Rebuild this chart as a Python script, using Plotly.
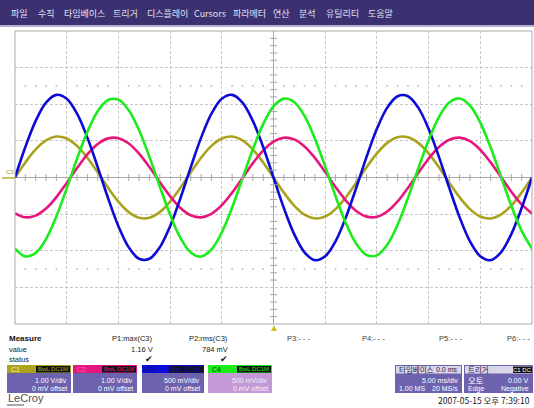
import plotly.graph_objects as go

W, H = 534, 408

# ---------------- data ----------------
# time axis in ms (5 ms/div, 10 divisions, trigger at centre)
time_ms = list(range(-25, 26))

# C1 (olive), 1.00 V/div
c1_volts = [0, 0.412, 0.767, 1.013, 1.118, 1.065, 0.863, 0.540, 0.140, -0.279,
            -0.658, -0.946, -1.100, -1.100, -0.946, -0.658, -0.279, 0.140, 0.540, 0.863,
            1.065, 1.118, 1.013, 0.767, 0.412, 0, -0.412, -0.767, -1.013, -1.118,
            -1.065, -0.863, -0.540, -0.140, 0.279, 0.658, 0.946, 1.100, 1.100, 0.946,
            0.658, 0.279, -0.140, -0.540, -0.863, -1.065, -1.118, -1.013, -0.767, -0.412, 0]
# C2 (magenta), 1.00 V/div
c2_volts = [-0.980, -1.087, -1.041, -0.849, -0.537, -0.150, 0.258, 0.630, 0.913, 1.068,
            1.073, 0.928, 0.652, 0.284, -0.123, -0.513, -0.831, -1.032, -1.089, -0.992,
            -0.756, -0.414, -0.014, 0.388, 0.736, 0.980, 1.087, 1.041, 0.849, 0.537,
            0.150, -0.258, -0.630, -0.913, -1.068, -1.073, -0.928, -0.652, -0.284, 0.123,
            0.513, 0.831, 1.032, 1.089, 0.992, 0.756, 0.414, 0.014, -0.388, -0.736, -0.980]
# C3 (blue), 500 mV/div
c3_volts = [0, 0.416, 0.773, 1.022, 1.128, 1.075, 0.871, 0.544, 0.142, -0.281,
            -0.664, -0.954, -1.110, -1.110, -0.954, -0.664, -0.281, 0.142, 0.544, 0.871,
            1.075, 1.128, 1.022, 0.773, 0.416, 0, -0.416, -0.773, -1.022, -1.128,
            -1.075, -0.871, -0.544, -0.142, 0.281, 0.664, 0.954, 1.110, 1.110, 0.954,
            0.664, 0.281, -0.142, -0.544, -0.871, -1.075, -1.128, -1.022, -0.773, -0.416, 0]
# C4 (green), 500 mV/div
c4_volts = [-0.971, -1.077, -1.031, -0.841, -0.532, -0.149, 0.255, 0.624, 0.905, 1.058,
            1.063, 0.919, 0.646, 0.282, -0.122, -0.508, -0.824, -1.023, -1.079, -0.983,
            -0.749, -0.410, -0.014, 0.385, 0.729, 0.971, 1.077, 1.031, 0.841, 0.532,
            0.149, -0.255, -0.624, -0.905, -1.058, -1.063, -0.919, -0.646, -0.282, 0.122,
            0.508, 0.824, 1.023, 1.079, 0.983, 0.749, 0.410, 0.014, -0.385, -0.729, -0.971]

channel_names = ["C1", "C2", "C3", "C4"]
volts_per_div = [1.0, 1.0, 0.5, 0.5]
scale_labels = ["1.00 V/div", "1.00 V/div", "500 mV/div", "500 mV/div"]
offset_labels = ["0 mV offset", "0 mV offset", "0 mV offset", "0 mV offset"]
coupling_label = "BwL DC1M"

measure_names = ["P1:max(C3)", "P2:rms(C3)", "P3:- - -", "P4:- - -", "P5:- - -", "P6:- - -"]
measure_values = ["1.16 V", "784 mV"]
measure_status = ["✔", "✔"]

menu_items = ["파일", "수직", "타임베이스", "트리거", "디스플레이", "Cursors",
              "파라메터", "연산", "분석", "유틸리티", "도움말"]

timebase_texts = ["타임베이스", "0.0 ms", "5.00 ms/div", "1.00 MS", "20 MS/s"]
trigger_texts = ["트리거", "C1 DC", "오토", "0.00 V", "Edge", "Negative"]
timestamp = "2007-05-15 오후 7:39:10"

# ---------------- styles ----------------
trace_colors = ["#ABA31E", "#E6177C", "#0C0CD6", "#1CEB1C"]
FONT = "Liberation Sans, Noto Sans CJK KR, sans-serif"
KFONT = "Noto Sans CJK KR, Liberation Sans, sans-serif"
PURPLE = "#6C62AE"


def px(x):
    return x / W


def py(y):
    return 1 - y / H


fig = go.Figure()

# waveforms (converted to screen divisions by channel scale)
for name, volts, vdiv, col in zip(channel_names, [c1_volts, c2_volts, c3_volts, c4_volts],
                                  volts_per_div, trace_colors):
    fig.add_trace(go.Scatter(
        x=time_ms, y=[v / vdiv for v in volts], mode="lines", name=name,
        line=dict(color=col, width=2.6, shape="spline", smoothing=1.0),
        hoverinfo="skip", showlegend=False))

# crosshair minor ticks (every 0.2 div)
tick_x = [i for i in range(-25, 26) if i % 5 != 0]
tick_y = [k / 5 for k in range(-20, 21) if k % 5 != 0]
fig.add_trace(go.Scatter(x=tick_x, y=[0] * len(tick_x), mode="markers",
                         marker=dict(symbol="line-ns", size=5, line=dict(color="#A8A8A8", width=1)),
                         hoverinfo="skip", showlegend=False))
fig.add_trace(go.Scatter(x=[0] * len(tick_y), y=tick_y, mode="markers",
                         marker=dict(symbol="line-ew", size=5, line=dict(color="#A8A8A8", width=1)),
                         hoverinfo="skip", showlegend=False))
# dotted rows at +/-2.5 div
for lvl in (2.5, -2.5):
    fig.add_trace(go.Scatter(x=tick_x, y=[lvl] * len(tick_x), mode="markers",
                             marker=dict(size=2, color="#C4C4C4"),
                             hoverinfo="skip", showlegend=False))

fig.update_layout(
    width=W, height=H, margin=dict(l=0, r=0, t=0, b=0),
    paper_bgcolor="white", plot_bgcolor="white",
    xaxis=dict(domain=[px(15), px(532)], range=[-25, 25], dtick=5, tick0=-25,
               showticklabels=False, ticks="", showgrid=True, gridcolor="#C6C6C6",
               griddash="3px,2px", gridwidth=1, zeroline=True, zerolinecolor="#A8A8A8",
               zerolinewidth=1, fixedrange=True),
    yaxis=dict(domain=[py(324), py(31)], range=[-4, 4], dtick=1,
               showticklabels=False, ticks="", showgrid=True, gridcolor="#C6C6C6",
               griddash="3px,2px", gridwidth=1, zeroline=True, zerolinecolor="#A8A8A8",
               zerolinewidth=1, fixedrange=True),
    showlegend=False,
)

shapes = []
ann = []


def rect(x0, y0, x1, y1, fill, line_color=None, lw=0):
    shapes.append(dict(type="rect", xref="paper", yref="paper",
                       x0=px(x0), x1=px(x1), y0=py(y1), y1=py(y0),
                       fillcolor=fill, line=dict(color=line_color or fill, width=lw),
                       layer="above"))


def text(x, y, s, size=8, color="#000", anchor="left", family=FONT, bold=False):
    if bold:
        s = "<b>" + s + "</b>"
    ann.append(dict(xref="paper", yref="paper", x=px(x), y=py(y), text=s,
                    showarrow=False, xanchor=anchor, yanchor="middle",
                    font=dict(size=size, color=color, family=family)))


# plot frame
shapes.append(dict(type="rect", xref="x domain", yref="y domain", x0=0, x1=1, y0=0, y1=1,
                   line=dict(color="#A8A8A8", width=1), fillcolor="rgba(0,0,0,0)", layer="above"))

# menu bar
rect(0, 0, 534, 25, "#3B3171")
rect(0, 25, 534, 27, "#B4B0D4")
menu_x = [9, 36, 62, 111, 145, 192, 231, 271, 297, 324, 366]
for mx, item in zip(menu_x, menu_items):
    text(mx, 14, item, size=9, color="#E2E0F0", family=KFONT)

# trace ground marker on the left
shapes.append(dict(type="line", xref="paper", yref="paper", x0=px(2), x1=px(15),
                   y0=py(178), y1=py(178), line=dict(color="#B4AC30", width=1.5)))
text(4, 172, "C3", size=6, color="#9A9440")

# trigger position marker
shapes.append(dict(type="path", xref="paper", yref="paper",
                   path=f"M {px(271)} {py(331)} L {px(277)} {py(331)} L {px(274)} {py(325)} Z",
                   fillcolor="#D4C020", line=dict(color="#D4C020", width=0), layer="above"))

# measure section
text(7, 338, "Measure", size=8, color="#101010", bold=True)
text(7, 349, "value", size=7.5, color="#202020")
text(7, 359, "status", size=7.5, color="#202020")
meas_x = [155, 230]
for mx, nm, val, st in zip(meas_x, measure_names[:2], measure_values, measure_status):
    text(mx, 338, nm, size=7.5, color="#202020", anchor="right")
    text(mx, 349, val, size=7.5, color="#202020", anchor="right")
    text(mx - 6, 359, st, size=9, color="#202020", anchor="center")
for mx, nm in zip([285, 360, 437, 505], measure_names[2:]):
    text(mx, 338, nm, size=7.5, color="#404040")

# channel boxes
box_x = [(7, 71), (73, 137), (142, 204), (208, 272)]
label_cols = ["#F4F0C8", "#F070B0", "#101060", "#0A4A0A"]
body_cols = [PURPLE, PURPLE, PURPLE, "#C49AD6"]
for (x0, x1), nm, col, lc, bc, sl, ol in zip(box_x, channel_names, trace_colors, label_cols,
                                           body_cols, scale_labels, offset_labels):
    rect(x0, 373, x1, 393, bc)
    rect(x0, 365, x1, 373, col)
    rect(x1 - 35, 366, x1 - 1, 372.5, "#141414")
    text(x0 + 2, 369, nm, size=7, color=lc)
    text(x1 - 18, 369.3, coupling_label, size=6, color=col, anchor="center")
    tc = "white" if bc == PURPLE else "#F4ECF8"
    text(x1 - 2, 380, sl, size=7, color=tc, anchor="right")
    text(x1 - 2, 388.5, ol, size=7, color=tc, anchor="right")

# timebase box
rect(395, 365, 462, 393, PURPLE)
rect(396, 366, 461, 373.5, "#DAD6EA")
text(397, 369.5, timebase_texts[0], size=7.5, color="#24204A", family=KFONT)
text(460, 369.5, timebase_texts[1], size=7, color="#24204A", anchor="right")
text(460, 380, timebase_texts[2], size=7, color="white", anchor="right")
text(397, 388.5, timebase_texts[3], size=7, color="white")
text(460, 388.5, timebase_texts[4], size=7, color="white", anchor="right")

# trigger box
rect(464, 365, 533, 393, PURPLE)
rect(465, 366, 532, 373.5, "#DAD6EA")
rect(513, 366.5, 532, 373, "#111111")
text(466, 369.5, trigger_texts[0], size=7.5, color="#24204A", family=KFONT)
text(522.5, 369.8, trigger_texts[1], size=6, color="white", anchor="center")
text(466, 380, trigger_texts[2], size=8.5, color="white", family=KFONT)
text(531, 380, trigger_texts[3], size=7, color="white", anchor="right")
text(466, 388.5, trigger_texts[4], size=7, color="white")
text(531, 388.5, trigger_texts[5], size=7, color="white", anchor="right")

# timestamp and logo
text(532, 400, timestamp, size=8.5, color="#202020", anchor="right", family=KFONT)
text(6, 398, "LeCroy", size=11, color="#505050")
shapes.append(dict(type="line", xref="paper", yref="paper", x0=px(7), x1=px(24),
                   y0=py(405), y1=py(405), line=dict(color="#505050", width=1)))

fig.update_layout(shapes=shapes, annotations=ann)
fig.write_html("out.html", config={"displayModeBar": False},
               post_script="document.body.style.margin='0';document.body.style.overflow='hidden';")
